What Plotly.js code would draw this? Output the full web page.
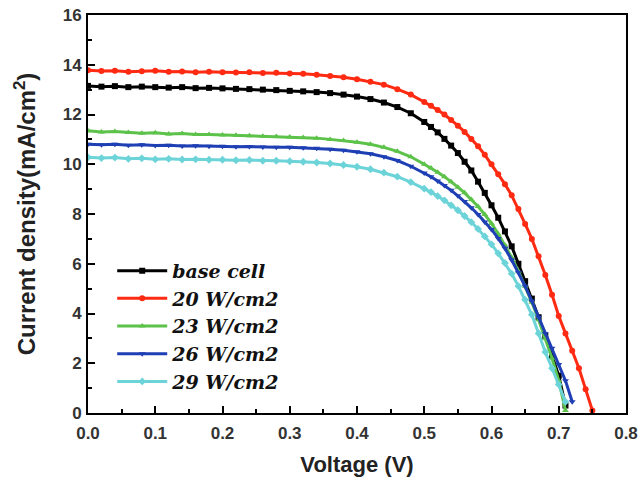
<!DOCTYPE html>
<html>
<head>
<meta charset="utf-8">
<script src="https://cdn.plot.ly/plotly-3.0.1.min.js"></script>
<style>html,body{margin:0;padding:0;background:#fff;}#chart{width:640px;height:486px;}</style>
</head>
<body>
<div id="chart"></div>
<script>
const voltage = [0,0.02,0.04,0.06,0.08,0.10,0.12,0.14,0.16,0.18,0.20,0.22,0.24,0.26,0.28,0.30,0.32,0.34,0.36,0.38,0.40,0.42,0.44,0.46,0.48,0.50,
  0.51,0.52,0.53,0.54,0.55,0.56,0.57,0.58,0.59,0.60,0.61,0.62,0.63,0.64,0.65,0.66,0.67,0.68,0.69,0.70,0.71,0.72,0.73,0.74,0.75];

const seriesNames = ["base cell","20 W/cm2","23 W/cm2","26 W/cm2","29 W/cm2"];

const baseCell = [13.15,13.12,13.14,13.10,13.12,13.10,13.08,13.10,13.06,13.07,13.05,13.03,13.02,13.00,12.98,12.95,12.93,12.90,12.86,12.80,12.72,12.62,12.48,12.30,12.05,11.70,
  11.50,11.28,11.02,10.75,10.45,10.10,9.75,9.30,8.85,8.35,7.85,7.30,6.70,6.00,5.30,4.60,3.85,3.10,2.30,1.50,0.30];

const w20 = [13.78,13.75,13.76,13.72,13.74,13.76,13.72,13.73,13.70,13.72,13.70,13.69,13.70,13.67,13.68,13.65,13.64,13.60,13.55,13.50,13.42,13.32,13.20,13.02,12.80,12.50,
  12.35,12.18,12.00,11.78,11.55,11.30,11.02,10.72,10.38,10.00,9.60,9.20,8.75,8.20,7.60,7.00,6.30,5.55,4.75,3.90,3.20,2.50,1.80,0.95,0.10];

const w23 = [11.35,11.30,11.32,11.28,11.25,11.27,11.22,11.24,11.20,11.20,11.18,11.17,11.15,11.13,11.12,11.10,11.08,11.05,11.00,10.95,10.88,10.80,10.68,10.52,10.30,10.00,
  9.85,9.68,9.50,9.30,9.08,8.85,8.58,8.30,7.98,7.62,7.20,6.75,6.25,5.70,5.10,4.45,3.75,3.00,2.20,1.30,0.10];

const w26 = [10.80,10.78,10.80,10.76,10.78,10.75,10.76,10.73,10.74,10.72,10.72,10.70,10.71,10.69,10.68,10.68,10.66,10.64,10.60,10.56,10.50,10.42,10.30,10.15,9.92,9.65,
  9.50,9.33,9.15,8.95,8.73,8.50,8.25,7.98,7.68,7.38,7.02,6.62,6.15,5.65,5.10,4.50,3.85,3.20,2.60,1.95,1.30,0.45];

const w29 = [10.28,10.25,10.27,10.22,10.24,10.20,10.22,10.19,10.20,10.18,10.18,10.16,10.17,10.14,10.14,10.12,10.10,10.07,10.03,9.97,9.90,9.80,9.66,9.50,9.28,9.02,
  8.88,8.72,8.55,8.35,8.15,7.92,7.67,7.40,7.10,6.78,6.42,6.03,5.60,5.10,4.55,3.95,3.20,2.45,1.80,1.15,0.45];

const xTickVals = [0,0.1,0.2,0.3,0.4,0.5,0.6,0.7,0.8];
const xTickText = ["0.0","0.1","0.2","0.3","0.4","0.5","0.6","0.7","0.8"];
const yTickVals = [0,2,4,6,8,10,12,14,16];

const allSeries = [baseCell, w20, w23, w26, w29];
const colors = ["#000000","#ff2a12","#5cc24a","#1f3fb4","#6cd4d8"];
const symbols = ["square","circle","triangle-up","triangle-down","diamond"];

const traces = allSeries.map((ys, i) => ({
  x: voltage.slice(0, ys.length),
  y: ys,
  name: seriesNames[i],
  type: "scatter",
  mode: "lines+markers",
  line: {color: colors[i], width: 3},
  marker: {color: colors[i], symbol: symbols[i], size: 6}
}));

const axisFont = {family: "Arial, 'Liberation Sans', sans-serif", size: 17, color: "#333333", weight: "bold"};

const layout = {
  width: 640, height: 486,
  margin: {l: 88, r: 14, t: 15, b: 73},
  paper_bgcolor: "#ffffff",
  plot_bgcolor: "#ffffff",
  showlegend: true,
  legend: {
    x: 0.045, y: 0.405, xanchor: "left", yanchor: "top",
    bgcolor: "rgba(0,0,0,0)",
    itemwidth: 50,
    font: {family: "'DejaVu Serif', 'Liberation Serif', serif", size: 19, color: "#111111", weight: "bold", style: "italic"},
    tracegroupgap: 0
  },
  xaxis: {
    range: [0, 0.8],
    tickvals: xTickVals, ticktext: xTickText,
    ticks: "inside", ticklen: 7, tickwidth: 2, tickcolor: "#000",
    minor: {ticks: "inside", dtick: 0.05, ticklen: 4, tickwidth: 2, tickcolor: "#000"},
    showline: true, linecolor: "#000", linewidth: 2, mirror: true,
    showgrid: false, zeroline: false,
    ticklabelstandoff: 4,
    tickfont: axisFont,
    title: {text: "Voltage (V)", font: {family: "Arial, 'Liberation Sans', sans-serif", size: 22, color: "#222222", weight: "bold"}, standoff: 14}
  },
  yaxis: {
    range: [0, 16],
    tickvals: yTickVals,
    ticks: "inside", ticklen: 7, tickwidth: 2, tickcolor: "#000",
    minor: {ticks: "inside", dtick: 1, ticklen: 4, tickwidth: 2, tickcolor: "#000"},
    showline: true, linecolor: "#000", linewidth: 2, mirror: true,
    showgrid: false, zeroline: false,
    ticklabelstandoff: 1,
    tickfont: axisFont,
    title: {text: "Current density(mA/cm<sup>2</sup>)", font: {family: "Arial, 'Liberation Sans', sans-serif", size: 24, color: "#222222", weight: "bold"}, standoff: 20}
  }
};

Plotly.newPlot("chart", traces, layout, {displayModeBar: false, staticPlot: true});
</script>
</body>
</html>
